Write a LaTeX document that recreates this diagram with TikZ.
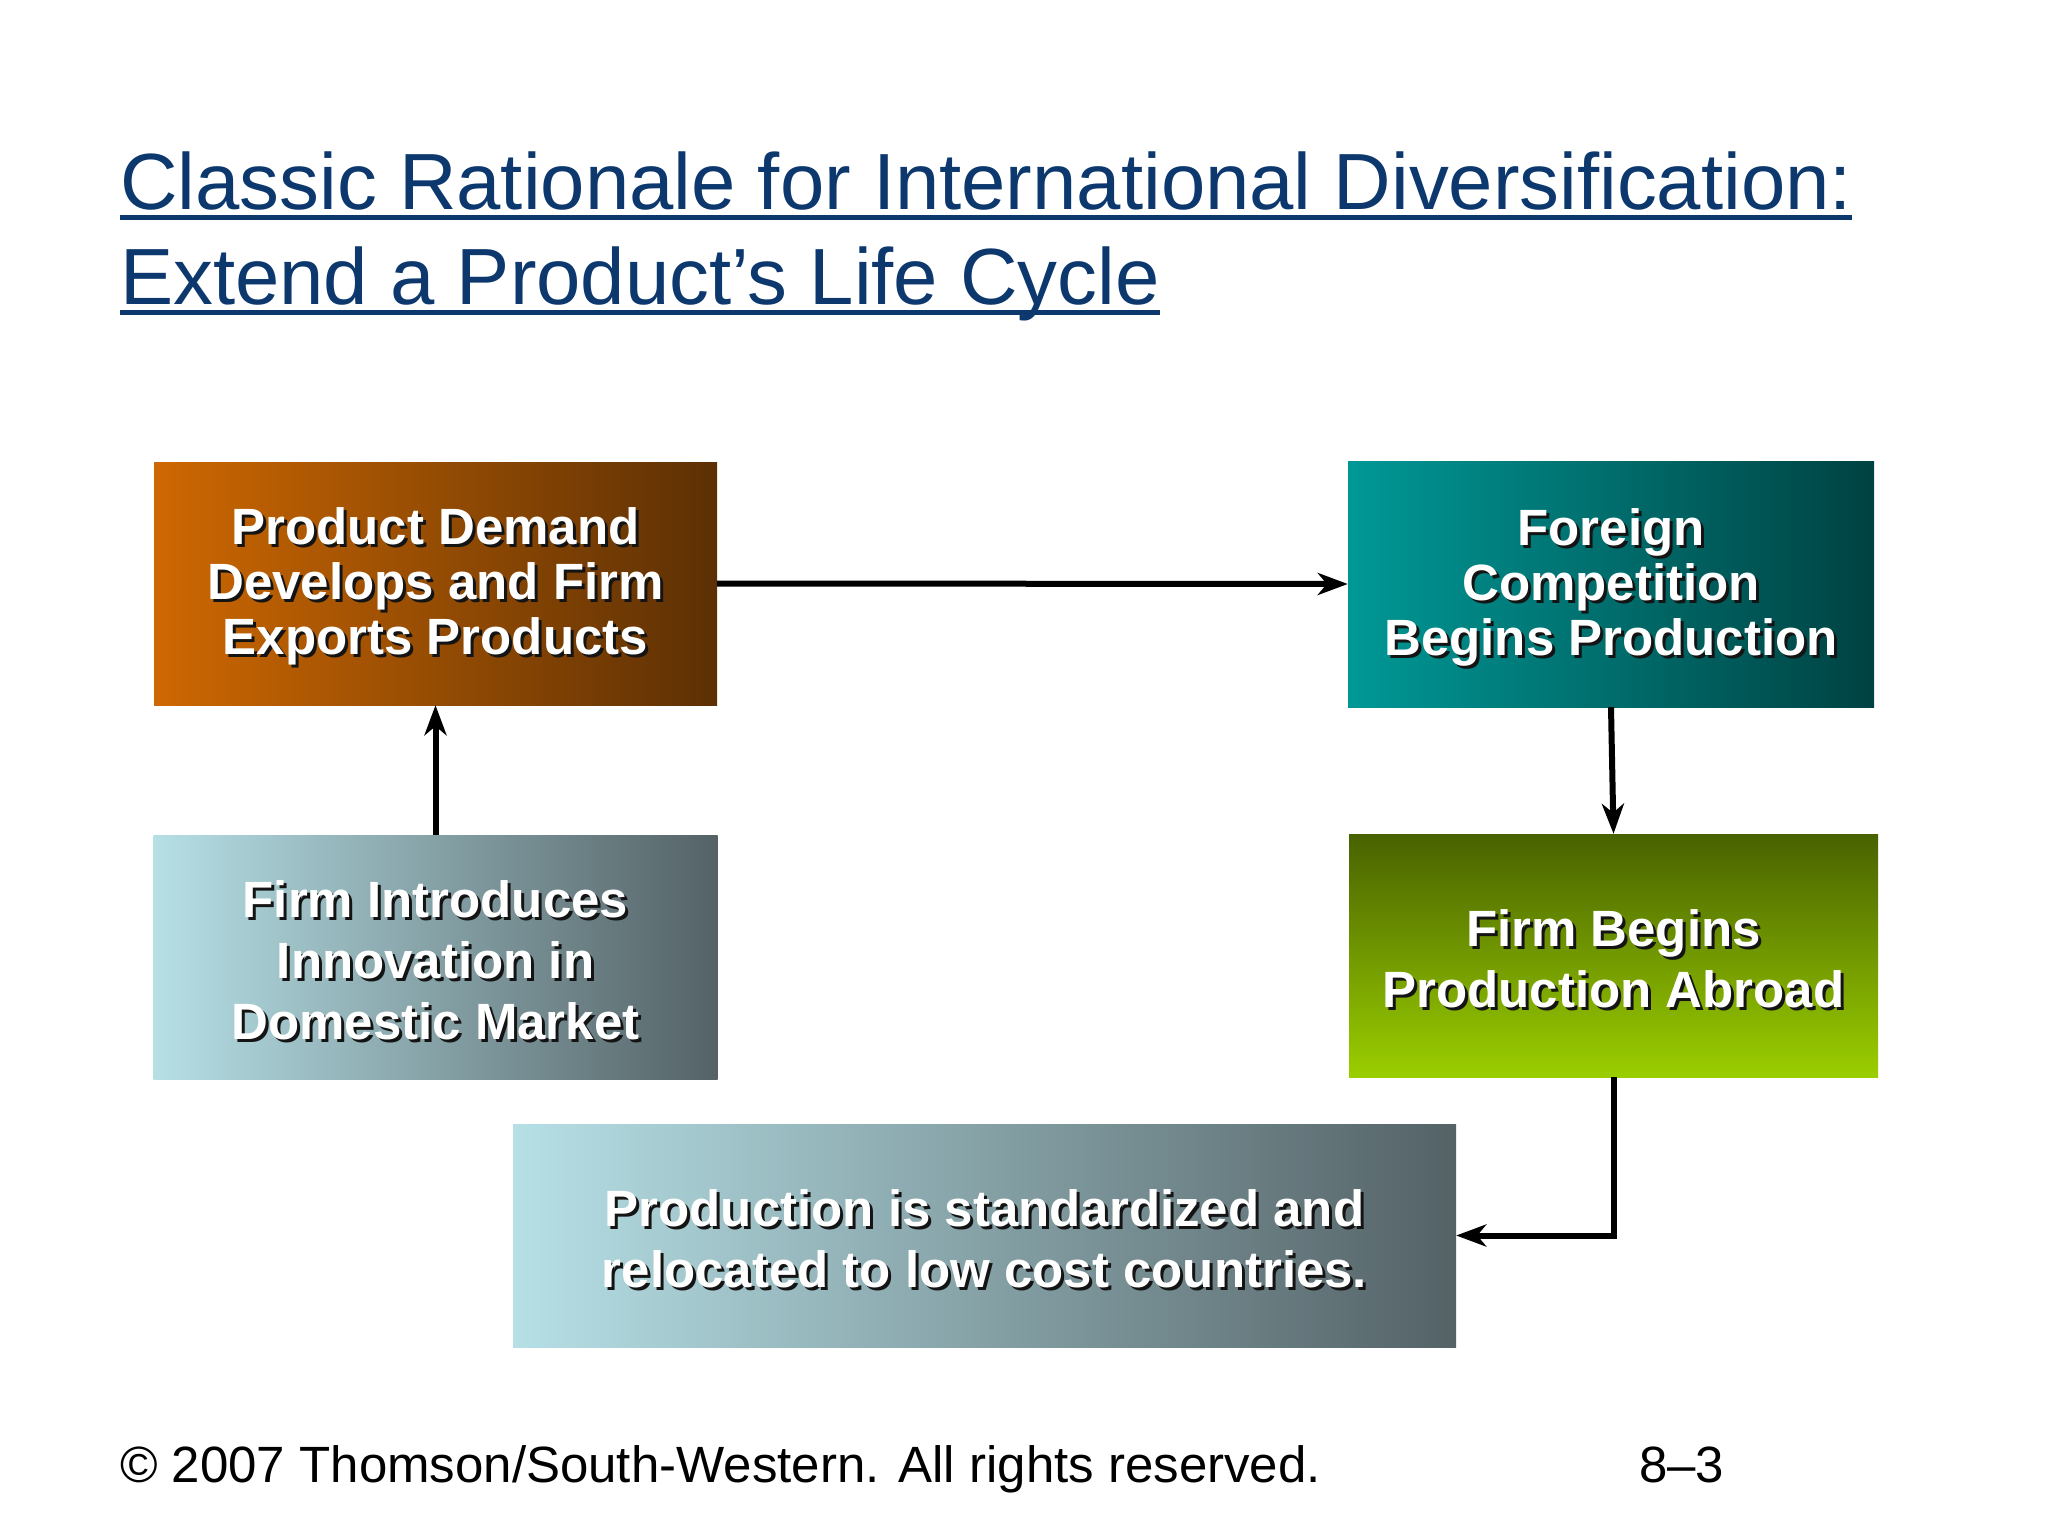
\documentclass[tikz,border=0pt]{standalone}
\usepackage{fontspec}
\setmainfont{Liberation Sans}
\usetikzlibrary{arrows.meta,calc}
\definecolor{titleblue}{RGB}{12,56,110}
\definecolor{orangeL}{RGB}{206,104,2}
\definecolor{orangeR}{RGB}{92,48,4}
\definecolor{tealL}{RGB}{0,152,150}
\definecolor{tealR}{RGB}{0,66,66}
\definecolor{slateL}{RGB}{182,224,230}
\definecolor{slateR}{RGB}{84,98,102}
\definecolor{greenT}{RGB}{72,98,0}
\definecolor{greenB}{RGB}{155,206,0}
\definecolor{shadowc}{RGB}{20,20,20}
\newcommand\shd[1]{\leavevmode\rlap{\kern3pt\raisebox{-3pt}{\color{shadowc}#1}}#1}
\newcommand\topst{\rule{0pt}{46pt}}
\tikzset{
  boxbase/.style={inner sep=0pt, align=center, text=white, font=\fontsize{51}{55}\selectfont\bfseries},
  wideline/.style={font=\fontsize{51}{61}\selectfont\bfseries},
  conn/.style={line width=6pt, -{Stealth[length=30pt,width=22pt,inset=9pt]}},
  titletext/.style={inner sep=0pt, text=titleblue, font=\fontsize{79.7}{79.7}\selectfont},
  ulstyle/.style={titleblue, line width=5pt},
  foot/.style={inner sep=0pt, text=black, font=\fontsize{51}{51}\selectfont}
}
\begin{document}
\begin{tikzpicture}[x=1pt,y=-1pt]
\useasboundingbox (0,0) rectangle (2048,1536);
\fill[white] (0,0) rectangle (2048,1536);

% title
\node[titletext, anchor=base west] (t1) at (120,209) {Classic Rationale for International Diversification:};
\node[titletext, anchor=base west] (t2) at (120,304) {Extend a Product’s Life Cycle};
\draw[ulstyle] ($(t1.base west)+(0,8)$) -- ($(t1.base east)+(0,8)$);
\draw[ulstyle] ($(t2.base west)+(0,8)$) -- ($(t2.base east)+(0,8)$);

% boxes
\node[boxbase, minimum width=563pt, minimum height=243pt, left color=orangeL, right color=orangeR]
  (b1) at (435.5,583.5) {\topst\shd{Product Demand}\\\shd{Develops and Firm}\\\shd{Exports Products}};
\node[boxbase, minimum width=526pt, minimum height=246pt, left color=tealL, right color=tealR]
  (b2) at (1611,584) {\topst\shd{Foreign}\\\shd{Competition}\\\shd{Begins Production}};
\node[boxbase, wideline, minimum width=564pt, minimum height=244pt, left color=slateL, right color=slateR]
  (b3) at (435.5,957) {\topst\shd{Firm Introduces}\\\shd{Innovation in}\\\shd{Domestic Market}};
\node[boxbase, wideline, minimum width=529pt, minimum height=243pt, top color=greenT, bottom color=greenB]
  (b4) at (1613.5,955.5) {\topst\shd{Firm Begins}\\\shd{Production Abroad}};
\node[boxbase, wideline, minimum width=943pt, minimum height=223pt, left color=slateL, right color=slateR]
  (b5) at (984.5,1235.5) {\topst\shd{Production is standardized and}\\\shd{relocated to low cost countries.}};

% connectors
\draw[conn] (b1.east) -- (b2.west);
\draw[conn] (b3.north) -- (b1.south);
\draw[conn] (b2.south) -- (b4.north);
\draw[conn] (b4.south) |- (b5.east);

% footer
\node[foot, anchor=base west] (ft) at (120,1482) {© 2007 Thomson/South-Western. All rights reserved.};
\node[foot, anchor=base west] (pg) at (1639,1482) {8–3};
\end{tikzpicture}
\end{document}
